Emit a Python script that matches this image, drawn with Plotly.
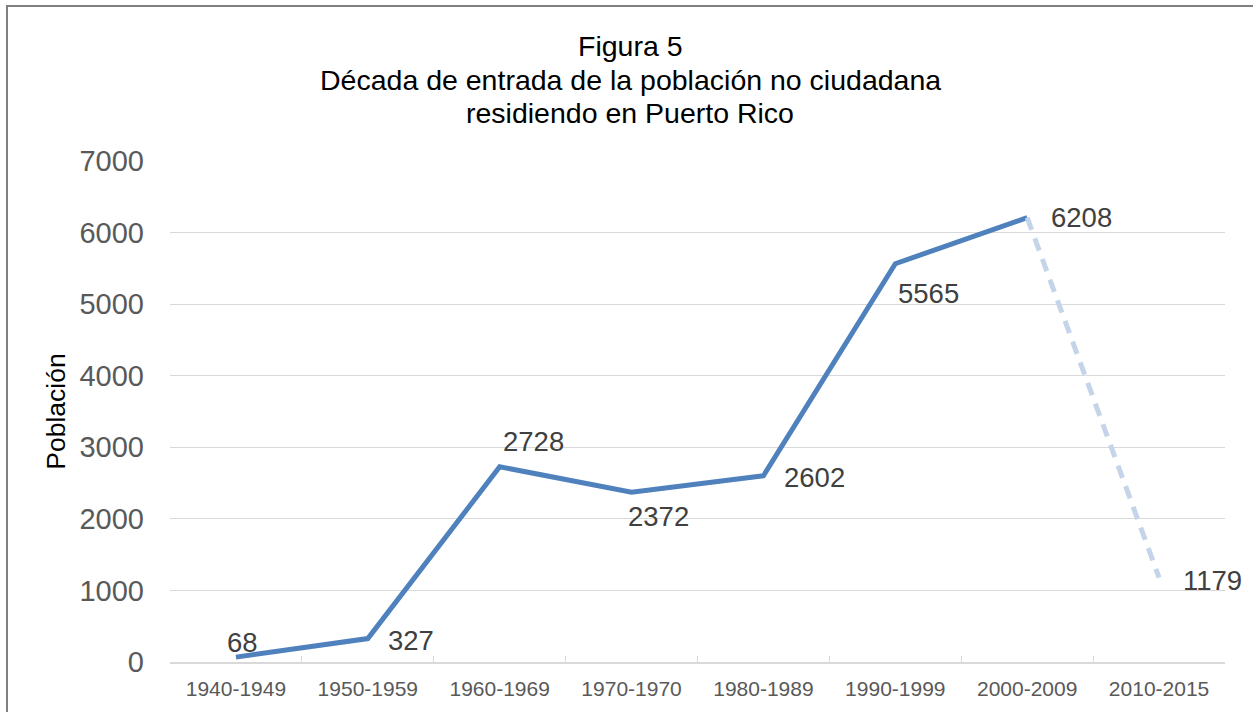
import plotly.graph_objects as go

categories = ["1940-1949", "1950-1959", "1960-1969", "1970-1970",
              "1980-1989", "1990-1999", "2000-2009", "2010-2015"]
values = [68, 327, 2728, 2372, 2602, 5565, 6208, 1179]
y_ticks = [0, 1000, 2000, 3000, 4000, 5000, 6000, 7000]
title_lines = ["Figura 5", "Década de entrada de la población no ciudadana",
               "residiendo en Puerto Rico"]
y_title = "Población"

# label offsets (pixels) relative to each point
label_dx = [7, 43, 34, 27, 51, 33, 54, 53]
label_dy = [15, -2, 25, -24, -2, -30, 0, -3]

FONT = "Liberation Sans, Arial, sans-serif"
BLUE = "#4f81bd"
W, H = 1253, 712
L, R, T, B = 170, 28, 161, 50
PW, PH = W - L - R, H - T - B

def px_x(x):
    return (x - L) / PW

def px_y(y):
    return (H - B - y) / PH

fig = go.Figure()
fig.add_trace(go.Scatter(
    x=categories[:7], y=values[:7], mode="lines",
    line=dict(color=BLUE, width=5), hoverinfo="skip", showlegend=False))
fig.add_trace(go.Scatter(
    x=categories[6:], y=values[6:], mode="lines",
    line=dict(color="#c4d5ea", width=5, dash="13px,9px"),
    hoverinfo="skip", showlegend=False))

for c, v, dx, dy in zip(categories, values, label_dx, label_dy):
    fig.add_annotation(x=c, y=v, text=str(v), showarrow=False,
                       xshift=dx, yshift=dy,
                       font=dict(family=FONT, size=27.5, color="#404040"))

# title lines
for line, yc in zip(title_lines, [46, 80, 113]):
    fig.add_annotation(text=line, xref="paper", yref="paper",
                       x=px_x(630), y=px_y(yc), xanchor="center",
                       yanchor="middle", showarrow=False,
                       font=dict(family=FONT, size=28.5, color="#000000"))

fig.update_layout(
    width=W, height=H,
    margin=dict(l=L, r=R, t=T, b=B),
    paper_bgcolor="white", plot_bgcolor="white",
    xaxis=dict(type="category", categoryorder="array", categoryarray=categories,
               range=[-0.5, 7.5], showgrid=False, showline=True,
               linecolor="#d9d9d9", linewidth=1.5, ticks="inside",
               tickson="boundaries", ticklen=6, tickcolor="#d9d9d9",
               ticklabelstandoff=7,
               tickfont=dict(family=FONT, size=21, color="#595959"),
               zeroline=False, fixedrange=True),
    yaxis=dict(range=[0, 7000], tickvals=y_ticks, showgrid=True,
               gridcolor="#d9d9d9", gridwidth=1.2, zeroline=False,
               showline=False, ticks="", ticklabelstandoff=25,
               tickfont=dict(family=FONT, size=29, color="#595959"),
               title=dict(text=y_title, standoff=6,
                          font=dict(family=FONT, size=26.5, color="#000000")),
               fixedrange=True),
)

# outer chart border (partially cropped in the reference)
fig.add_shape(type="rect", xref="paper", yref="paper",
              x0=px_x(7), x1=1.2, y0=-0.3, y1=px_y(6),
              line=dict(color="#808080", width=2), fillcolor="rgba(0,0,0,0)",
              layer="below")

fig.write_html("out.html", config={"displayModeBar": False},
               post_script="document.body.style.margin='0';"
                           "document.body.style.overflow='hidden';")
